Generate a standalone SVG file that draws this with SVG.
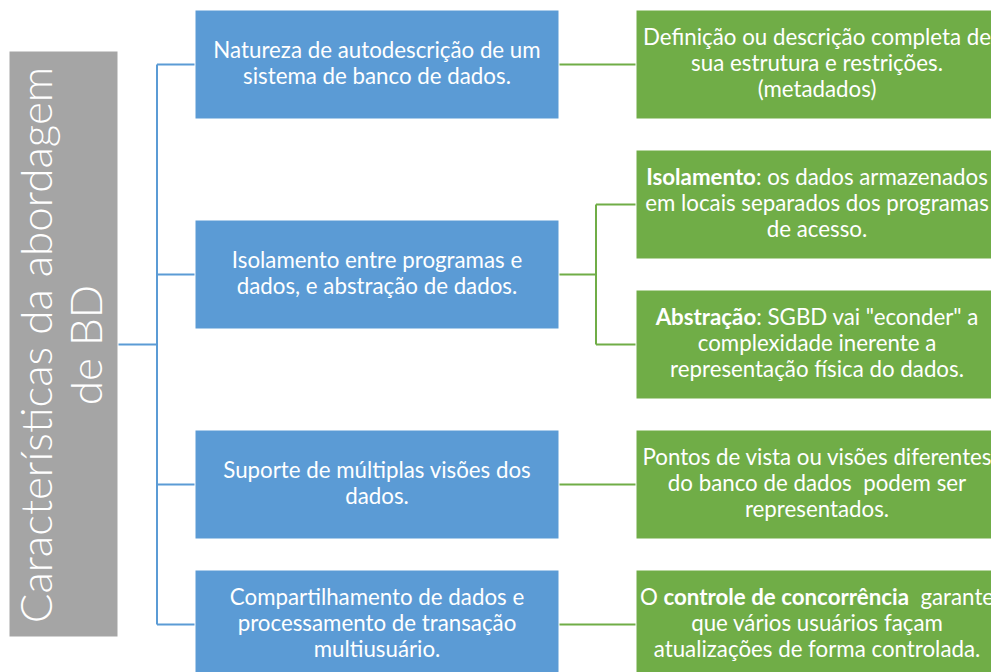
<svg xmlns="http://www.w3.org/2000/svg" width="991" height="672" viewBox="0 0 991 672">
<style>
.blue{fill:#5B9BD5;stroke:#ffffff;stroke-width:1}
.green{fill:#70AD47;stroke:#ffffff;stroke-width:1}
.gray{fill:#A5A5A5;stroke:#ffffff;stroke-width:1}
.t{font-family:Lato,"Open Sans","Liberation Sans",sans-serif;font-size:22.3px;fill:#ffffff;text-anchor:middle;white-space:pre}
.big{font-family:Lato,"Open Sans","Liberation Sans",sans-serif;font-size:44px;font-weight:300;fill:#ffffff;text-anchor:middle}
.b{font-weight:bold}
.cb{fill:none;stroke:#5B9BD5;stroke-width:2}
.cg{fill:none;stroke:#70AD47;stroke-width:2}
</style>
<rect width="991" height="672" fill="#ffffff"/>
<g id="connectors">
<path class="cb" d="M118,344.5H157M157,64.5V624.5M157,64.5H195M157,274.5H195M157,484.5H195M157,624.5H195"/>
<path class="cg" d="M559,64.5H636M559,274.5H596M596,204.5V344.5M596,204.5H636M596,344.5H636M559,484.5H636M559,624.5H636"/>
</g>
<g id="root">
<rect class="gray" x="9" y="51" width="109" height="586"/>
<text class="big" transform="translate(51.5,345) rotate(-90)"><tspan x="0" y="0">Características da abordagem</tspan><tspan x="0" y="50.5">de BD</tspan></text>
</g>
<g id="n1">
<rect class="blue" x="195" y="10" width="364" height="109"/>
<text class="t"><tspan x="377" y="58.3">Natureza de autodescrição de um</tspan><tspan x="377" y="84">sistema de banco de dados.</tspan></text>
</g>
<g id="n2">
<rect class="blue" x="195" y="220" width="364" height="109"/>
<text class="t"><tspan x="377" y="268.3">Isolamento entre programas e</tspan><tspan x="377" y="294">dados, e abstração de dados.</tspan></text>
</g>
<g id="n3">
<rect class="blue" x="195" y="430" width="364" height="109"/>
<text class="t"><tspan x="377" y="478.3">Suporte de múltiplas visões dos</tspan><tspan x="377" y="504">dados.</tspan></text>
</g>
<g id="n4">
<rect class="blue" x="195" y="570" width="364" height="109"/>
<text class="t"><tspan x="377" y="605">Compartilhamento de dados e</tspan><tspan x="377" y="631">processamento de transação</tspan><tspan x="377" y="657">multiusuário.</tspan></text>
</g>
<g id="g1">
<rect class="green" x="636" y="10" width="362" height="109"/>
<text class="t"><tspan x="817" y="45">Definição ou descrição completa de</tspan><tspan x="817" y="71">sua estrutura e restrições.</tspan><tspan x="817" y="97">(metadados)</tspan></text>
</g>
<g id="g2">
<rect class="green" x="636" y="150" width="362" height="109"/>
<text class="t"><tspan x="817" y="185"><tspan class="b">Isolamento</tspan>: os dados armazenados</tspan><tspan x="817" y="211">em locais separados dos programas</tspan><tspan x="817" y="237">de acesso.</tspan></text>
</g>
<g id="g3">
<rect class="green" x="636" y="290" width="362" height="109"/>
<text class="t"><tspan x="817" y="325"><tspan class="b">Abstração</tspan>: SGBD vai "econder" a</tspan><tspan x="817" y="351">complexidade inerente a</tspan><tspan x="817" y="377">representação física do dados.</tspan></text>
</g>
<g id="g4">
<rect class="green" x="636" y="430" width="362" height="109"/>
<text class="t"><tspan x="817" y="465">Pontos de vista ou visões diferentes</tspan><tspan x="817" y="491">do banco de dados  podem ser</tspan><tspan x="817" y="517">representados.</tspan></text>
</g>
<g id="g5">
<rect class="green" x="636" y="570" width="362" height="109"/>
<text class="t"><tspan x="817" y="605">O <tspan class="b">controle de concorrência</tspan>  garante</tspan><tspan x="817" y="631">que vários usuários façam</tspan><tspan x="817" y="657">atualizações de forma controlada.</tspan></text>
</g>
</svg>
